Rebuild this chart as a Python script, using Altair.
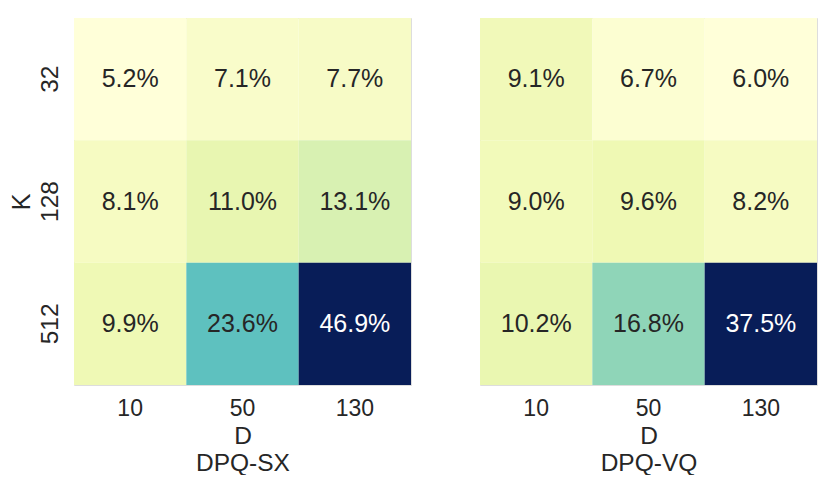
import altair as alt
import pandas as pd
import numpy as np

D_vals = ["10", "50", "130"]
K_vals = ["32", "128", "512"]
sx_vals = [[5.2, 7.1, 7.7],
           [8.1, 11.0, 13.1],
           [9.9, 23.6, 46.9]]
vq_vals = [[9.1, 6.7, 6.0],
           [9.0, 9.6, 8.2],
           [10.2, 16.8, 37.5]]
panel_names = ["DPQ-SX", "DPQ-VQ"]
ylgnbu = ["#ffffd9", "#edf8b1", "#c7e9b4", "#7fcdbb", "#41b6c4",
          "#1d91c0", "#225ea8", "#253494", "#081d58"]

FONT = "Liberation Sans"
DARK = "#262626"
W, H = 337, 367


def panel(vals, name, show_y):
    rows = []
    for i, k in enumerate(K_vals):
        for j, d in enumerate(D_vals):
            rows.append({"K": k, "D": d, "v": vals[i][j],
                         "label": f"{vals[i][j]:.1f}%"})
    df = pd.DataFrame(rows)
    flat = [v for r in vals for v in r]
    lo, hi = min(flat), max(flat)
    dom = [float(x) for x in np.linspace(lo, hi, len(ylgnbu))]
    thr = lo + 0.6 * (hi - lo)

    x = alt.X("D:N", sort=D_vals,
              scale=alt.Scale(paddingInner=0, paddingOuter=0),
              axis=alt.Axis(title=["D", name], labelAngle=0, ticks=False,
                            domain=False, labelPadding=12, labelFontSize=23,
                            labelFont=FONT, labelColor=DARK,
                            titleFont=FONT, titleFontSize=24.5, titleColor=DARK,
                            titleFontWeight="normal", titlePadding=4,
                            titleLineHeight=27))
    if show_y:
        yaxis = alt.Axis(title="K", labelAngle=-90, labelAlign="center",
                         labelBaseline="alphabetic", ticks=False, domain=False,
                         labelPadding=17, labelFontSize=24.5, labelFont=FONT,
                         labelColor=DARK, titleFont=FONT, titleFontSize=25,
                         titleColor=DARK, titleFontWeight="normal",
                         titleX=-45, titleY=H / 2, titleAngle=-90,
                         titleBaseline="alphabetic", titleAlign="center")
    else:
        yaxis = None
    y = alt.Y("K:N", sort=K_vals,
              scale=alt.Scale(paddingInner=0, paddingOuter=0), axis=yaxis)

    base = alt.Chart(df).encode(x=x, y=y)
    rect = base.mark_rect(strokeWidth=0).encode(
        color=alt.Color("v:Q", scale=alt.Scale(domain=dom, range=ylgnbu),
                        legend=None))
    text = base.mark_text(fontSize=25, font=FONT, baseline="middle").encode(
        text="label:N",
        color=alt.condition(alt.datum.v > thr, alt.value("white"),
                            alt.value(DARK)))
    return alt.layer(rect, text).properties(width=W, height=H).resolve_scale(
        color="independent")


chart = alt.hconcat(
    panel(sx_vals, panel_names[0], True),
    panel(vq_vals, panel_names[1], False),
    spacing=67,
).properties(padding={"left": 0, "top": 9, "right": 0, "bottom": 0}
).configure_view(stroke=None).configure(background="white")

chart.save("out.html", embed_options={"renderer": "svg", "actions": False})
